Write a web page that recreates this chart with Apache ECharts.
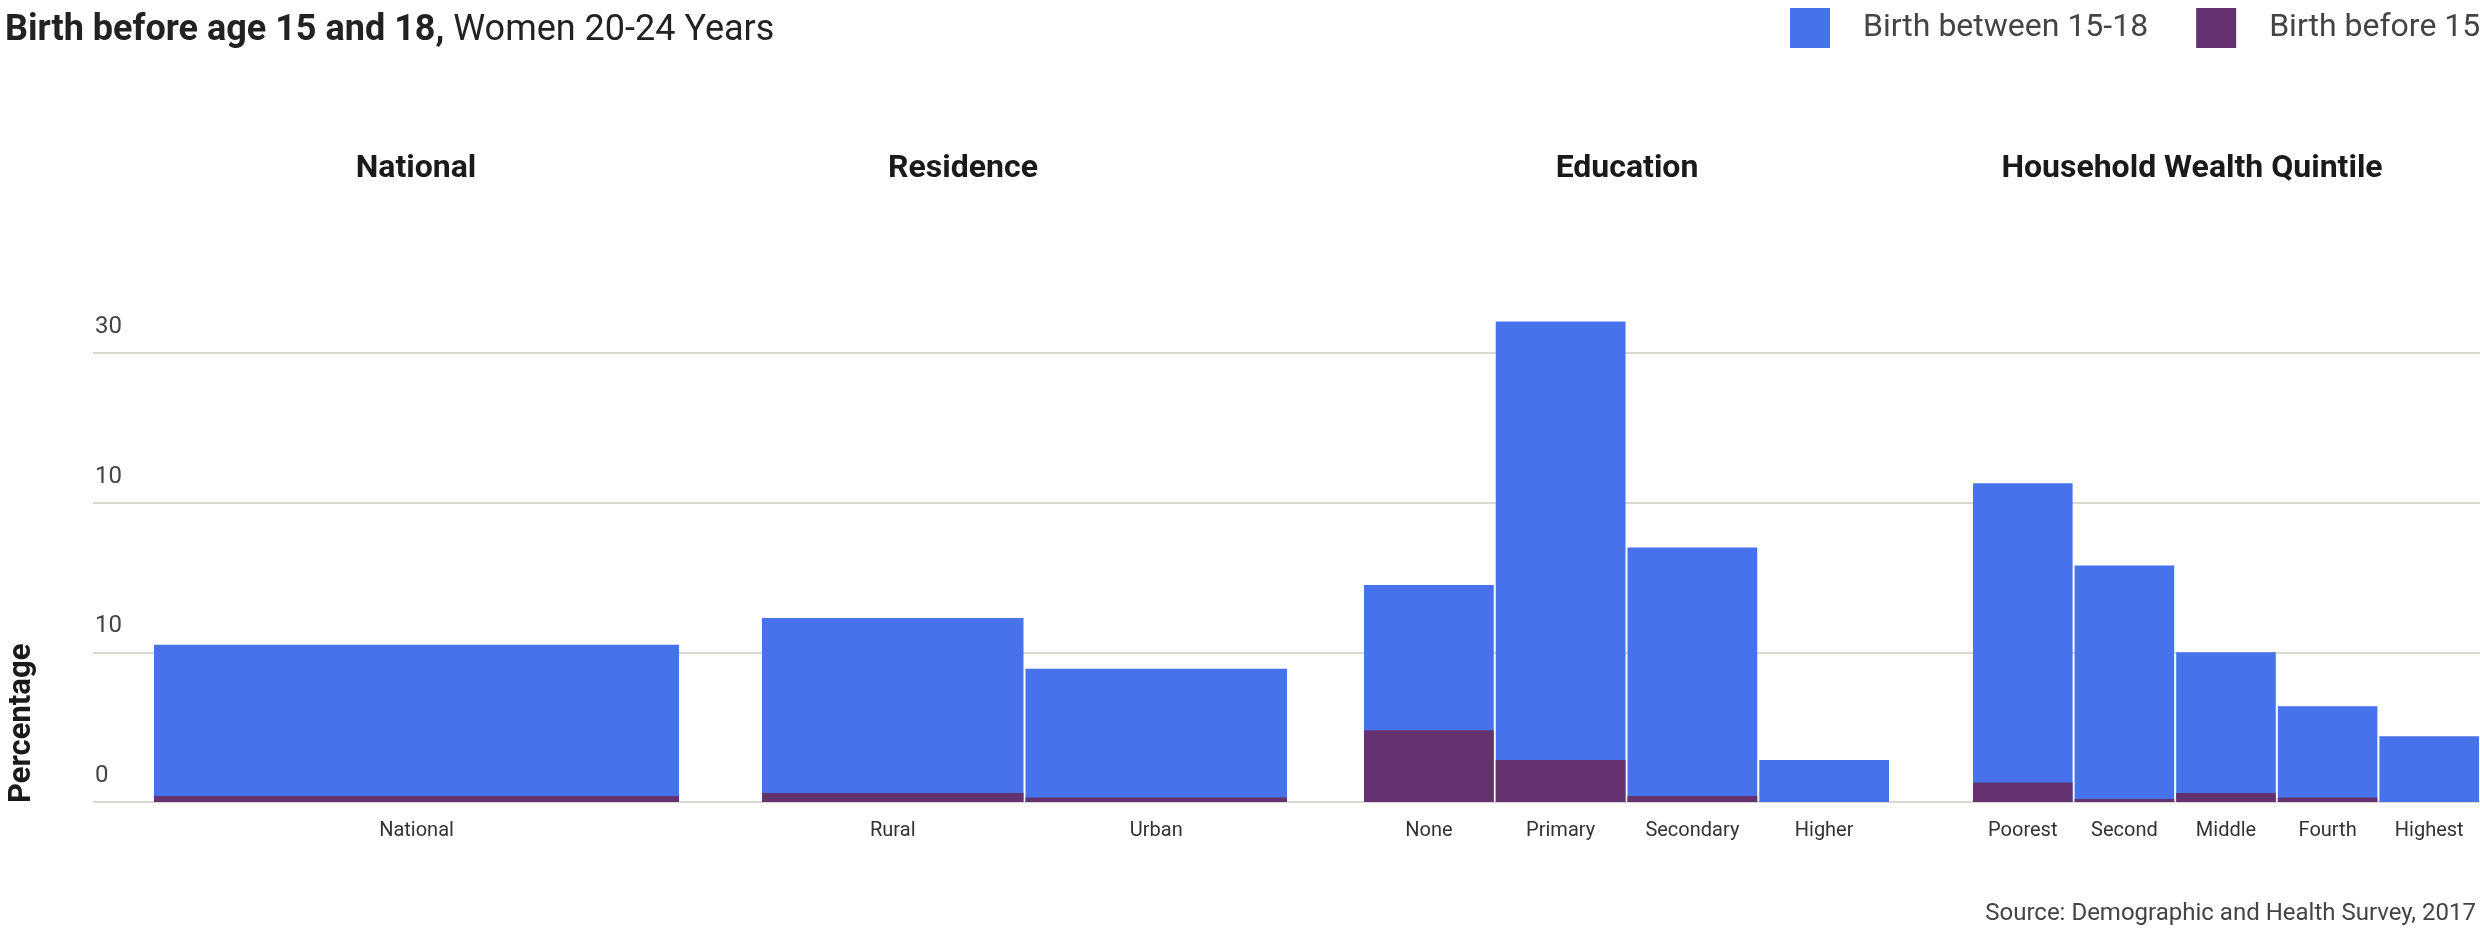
<!DOCTYPE html>
<html>
<head>
<meta charset="utf-8">
<script src="https://cdn.jsdelivr.net/npm/echarts@6/dist/echarts.min.js"></script>
<style>
  html, body { margin: 0; padding: 0; background: #fff; }
  #chart { width: 2480px; height: 931px; }
</style>
</head>
<body>
<div id="chart"></div>
<script>
// Data
const groups = ['National', 'Residence', 'Education', 'Household Wealth Quintile'];
const categories = [
  ['National'],
  ['Rural', 'Urban'],
  ['None', 'Primary', 'Secondary', 'Higher'],
  ['Poorest', 'Second', 'Middle', 'Fourth', 'Highest']
];
const between15to18 = [
  [10.5],
  [12.3, 8.9],
  [14.5, 32.1, 17.0, 2.8],
  [21.3, 15.8, 10.0, 6.4, 4.4]
];
const before15 = [
  [0.4],
  [0.6, 0.3],
  [4.8, 2.8, 0.4, 0],
  [1.3, 0.2, 0.6, 0.3, 0]
];
const yTickLabels = ['0', '10', '10', '30'];

const BLUE = '#4672ec';
const PURPLE = '#65326f';
const FONT = 'Roboto';

// panel layout (px)
const panelLeft = [153, 761, 1363, 1972];
const panelWidth = 527;
const titleCenter = [416, 963, 1627, 2192];
const gridTop = 353;
const gridBottom = 931 - 802;

const chart = echarts.init(document.getElementById('chart'));

const grids = [{ left: 93, right: 0, top: gridTop, bottom: gridBottom }];
const xAxes = [{ type: 'value', gridIndex: 0, show: false, min: 0, max: 1 }];
const yAxes = [{
  type: 'value', gridIndex: 0, min: 0, max: 30, interval: 10,
  axisLine: { show: false }, axisTick: { show: false },
  splitLine: { lineStyle: { color: '#dbd8d0', width: 2 } },
  axisLabel: {
    inside: true, margin: 2, color: '#444', fontFamily: FONT, fontSize: 24,
    verticalAlign: 'bottom', padding: [0, 0, 14, 0],
    formatter: (v) => yTickLabels[Math.round(v / 10)]
  }
}];
const series = [];
const graphics = [];

groups.forEach((g, i) => {
  const gi = i + 1;
  grids.push({ left: panelLeft[i], width: panelWidth, top: gridTop, bottom: gridBottom });
  xAxes.push({
    type: 'category', gridIndex: gi, data: categories[i],
    axisLine: { show: false }, axisTick: { show: false },
    axisLabel: { color: '#333', fontFamily: FONT, fontSize: 20, margin: 19 }
  });
  yAxes.push({ type: 'value', gridIndex: gi, min: 0, max: 30, show: false, splitLine: { show: false } });
  series.push({
    name: 'Birth between 15-18', type: 'bar', xAxisIndex: gi, yAxisIndex: gi,
    data: between15to18[i], itemStyle: { color: BLUE },
    barCategoryGap: 2, barGap: '-100%', clip: false
  });
  series.push({
    name: 'Birth before 15', type: 'bar', xAxisIndex: gi, yAxisIndex: gi,
    data: before15[i], itemStyle: { color: PURPLE },
    barCategoryGap: 2, barGap: '-100%', clip: false
  });
  graphics.push({
    type: 'text', x: titleCenter[i], y: 169,
    style: {
      text: g, fill: '#1a1a1a', font: 'bold 32px ' + FONT,
      align: 'center', verticalAlign: 'middle'
    }
  });
});

graphics.push({
  type: 'text', x: 22, y: 803, rotation: Math.PI / 2,
  style: {
    text: 'Percentage', fill: '#1a1a1a', font: 'bold 31px ' + FONT,
    align: 'left', verticalAlign: 'middle'
  }
});
graphics.push({
  type: 'text', x: 2476, y: 914,
  style: {
    text: 'Source: Demographic and Health Survey, 2017', fill: '#444',
    font: '24px ' + FONT, align: 'right', verticalAlign: 'middle'
  }
});

chart.setOption({
  animation: false,
  backgroundColor: '#fff',
  title: {
    text: '{b|Birth before age 15 and 18,} Women 20-24 Years',
    left: 0, top: 8,
    textStyle: {
      fontFamily: FONT, fontSize: 36, fontWeight: 'normal', color: '#222',
      rich: { b: { fontFamily: FONT, fontSize: 36, fontWeight: 'bold', color: '#222' } }
    }
  },
  legend: {
    data: ['Birth between 15-18', 'Birth before 15'],
    left: 1790, top: 3, width: 800, padding: [5, 0, 5, 0],
    icon: 'rect', itemWidth: 40, itemHeight: 40, itemGap: 48,
    textStyle: { fontFamily: FONT, fontSize: 32, color: '#444', padding: [0, 0, 0, 28] }
  },
  grid: grids,
  xAxis: xAxes,
  yAxis: yAxes,
  series: series,
  graphic: graphics
});
</script>
</body>
</html>
